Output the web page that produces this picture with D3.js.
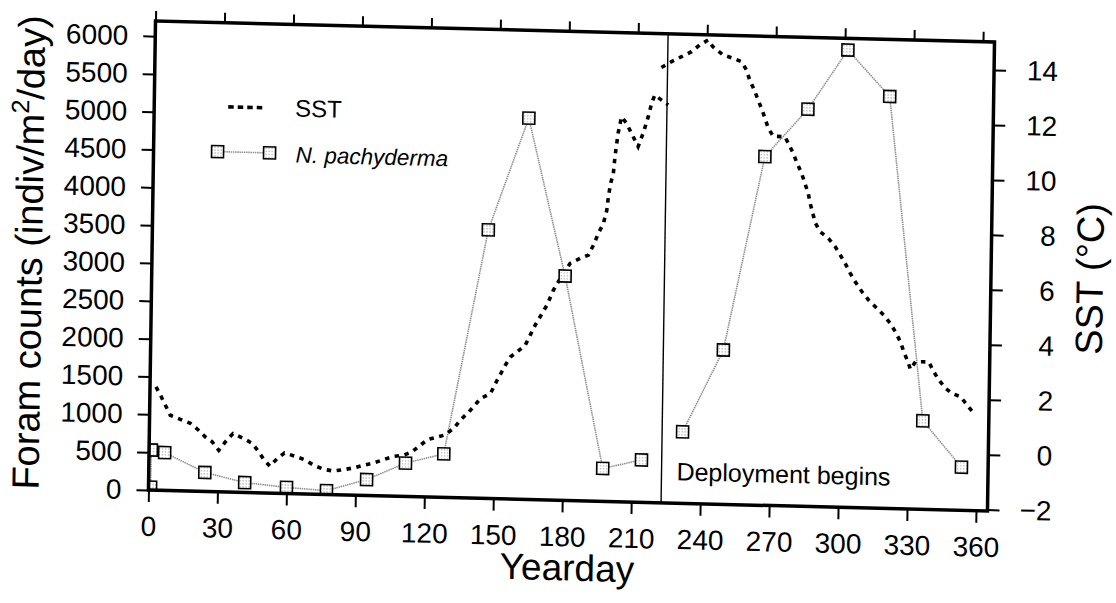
<!DOCTYPE html>
<html>
<head>
<meta charset="utf-8">
<script src="https://cdn.jsdelivr.net/npm/d3@7"></script>
<style>
  body { margin: 0; background: #fff; }
  text { font-family: "Liberation Sans", Arial, Helvetica, sans-serif; fill: #000; }
</style>
</head>
<body>
<svg id="chart" width="1116" height="603"></svg>
<script>
// N. pachyderma flux (indiv/m2/day), before and after the deployment gap
const pachyDaysA   = [0.9, 1.0, 6.8, 24.4, 41.8, 60.0, 77.4, 94.8, 111.6, 128.2, 146.1, 163.0, 179.8, 197.4, 214.2];
const pachyCountsA = [40, 530, 500, 250, 130, 80, 50, 210, 440, 575, 3550, 5040, 2965, 435, 560];
const pachyDaysB   = [231.9, 249.1, 265.9, 284.3, 301.3, 319.8, 336.3, 353.4];
const pachyCountsB = [945, 2040, 4610, 5250, 6045, 5445, 1170, 570];

// Sea surface temperature (deg C), two records split at deployment
const sstDaysA = [2.6, 4.8, 6.8, 9.0, 13.4, 17.8, 21.4, 24.4, 27.4, 30.3, 33.1, 36.4, 41.1, 44.8, 47.7, 49.9,
  52.6, 55.8, 58.9, 63.7, 68.1, 71.7, 76.1, 80.2, 84.8, 89.1, 93.5, 97.8, 102.1, 106.5, 110.8, 114.4, 118.0,
  121.1, 128.1, 132.4, 135.2, 138.8, 143.8, 148.1, 150.9, 154.4, 156.5, 159.4, 162.9, 165.0, 167.1, 169.2,
  172.1, 174.8, 177.7, 181.9, 186.2, 189.8, 191.9, 194.0, 196.1, 197.5, 198.1, 199.0, 200.1, 200.7, 201.9,
  203.3, 205.5, 208.5, 210.7, 212.8, 214.9, 216.3, 217.6, 220.6, 223.5];
const sstTempA = [1.71, 1.38, 1.05, 0.69, 0.55, 0.41, 0.17, -0.07, -0.24, -0.54, -0.23, 0.08, -0.09, -0.26, -0.56, -0.83,
  -1.07, -0.79, -0.58, -0.69, -0.82, -1.0, -1.14, -1.19, -1.13, -1.06, -0.95, -0.86, -0.73, -0.6, -0.55, -0.42, -0.17,
  0.04, 0.21, 0.47, 0.78, 1.08, 1.58, 1.77, 2.26, 2.82, 3.12, 3.31, 3.56, 3.93, 4.30, 4.61,
  5.04, 5.59, 6.02, 6.58, 6.77, 6.90, 7.26, 7.70, 8.06, 8.55, 9.04, 9.53, 9.89, 10.50, 11.35,
  11.96, 11.73, 11.24, 10.89, 11.38, 11.98, 12.48, 12.78, 12.60, 12.43];
const sstDaysB = [220.3, 224.7, 229.0, 233.3, 236.8, 240.4, 242.6, 247.1, 251.4, 255.1, 257.3, 258.8, 260.7, 262.6,
  264.2, 265.7, 267.2, 269.4, 274.5, 276.4, 278.2, 280.0, 282.0, 283.5, 285.0, 285.9, 287.1, 288.2, 290.4, 294.1,
  297.1, 299.3, 301.5, 303.8, 306.0, 309.0, 312.0, 314.9, 318.6, 321.6, 323.8, 326.1, 327.6, 329.1, 330.6, 332.7,
  335.6, 338.5, 340.8, 343.0, 346.0, 348.9, 352.6, 355.5, 358.5];
const sstTempB = [13.79, 14.01, 14.20, 14.39, 14.64, 14.83, 14.59, 14.30, 14.19, 14.07, 13.78, 13.41, 13.08, 12.69,
  12.37, 12.03, 11.67, 11.39, 11.38, 11.08, 10.78, 10.42, 10.06, 9.70, 9.34, 8.98, 8.62, 8.28, 7.96, 7.72,
  7.42, 7.13, 6.83, 6.47, 6.17, 5.81, 5.51, 5.28, 4.98, 4.68, 4.38, 4.02, 3.66, 3.37, 3.03, 3.31,
  3.32, 3.32, 2.96, 2.67, 2.37, 2.19, 2.08, 1.78, 1.48];

const deploymentDay = 223;
const dayTicks = d3.range(0, 361, 30);
const countTicks = d3.range(0, 6001, 500);
const sstTicks = d3.range(-2, 15, 2);

const W = 839, H = 469;
const svg = d3.select("#chart");

const defs = svg.append("defs");
const pat = defs.append("pattern").attr("id", "stipple")
  .attr("patternUnits", "userSpaceOnUse").attr("width", 3).attr("height", 3);
pat.append("rect").attr("width", 3).attr("height", 3).attr("fill", "#fff");
pat.append("rect").attr("x", 1).attr("y", 1).attr("width", 1).attr("height", 1).attr("fill", "#888");
defs.append("clipPath").attr("id", "plotClip")
  .append("rect").attr("width", W).attr("height", H);

// plot group (the printed frame sits slightly askew on the page)
const g = svg.append("g").attr("transform", "matrix(1,0.025,-0.015,1,155.5,21)");

const x = d3.scaleLinear().domain([0, 365]).range([0, W]);
const y = d3.scaleLinear().domain([0, 6200]).range([H, 0]);
const yT = d3.scaleLinear().domain([-2.05, 15.02]).range([H, 0]);

function styleAxis(sel) {
  sel.select(".domain").remove();
  sel.selectAll(".tick line").attr("stroke", "#000").attr("stroke-width", 2);
  sel.selectAll(".tick text").attr("font-size", 28).attr("fill", "#000")
    .attr("font-family", "Liberation Sans, Arial, sans-serif");
}

g.append("g").attr("transform", `translate(0,${H})`)
  .call(d3.axisBottom(x).tickValues(dayTicks).tickSize(12).tickPadding(14).tickFormat(d3.format("d")))
  .call(styleAxis);
g.append("g")
  .call(d3.axisTop(x).tickValues(dayTicks).tickSize(10).tickFormat(""))
  .call(styleAxis);
g.append("g")
  .call(d3.axisLeft(y).tickValues(countTicks).tickSize(12).tickPadding(15).tickFormat(d3.format("d")))
  .call(styleAxis);
g.append("g").attr("transform", `translate(${W},0)`)
  .call(d3.axisRight(yT).tickValues(sstTicks).tickSize(12).tickFormat(d3.format("d")))
  .call(styleAxis)
  .call(s => s.selectAll(".tick text").attr("text-anchor", "end").attr("x", 64));

// data layer
const plot = g.append("g").attr("clip-path", "url(#plotClip)");

const sstLine = d3.line().x(d => x(d[0])).y(d => yT(d[1]));
const countLine = d3.line().x(d => x(d[0])).y(d => y(d[1]));

const pachyA = pachyDaysA.map((d, i) => [d, pachyCountsA[i]]);
const pachyB = pachyDaysB.map((d, i) => [d, pachyCountsB[i]]);
const sstA = sstDaysA.map((d, i) => [d, sstTempA[i]]);
const sstB = sstDaysB.map((d, i) => [d, sstTempB[i]]);

[pachyA, pachyB].forEach(s => {
  plot.append("path").attr("d", countLine(s)).attr("fill", "none")
    .attr("stroke", "#8a8a8a").attr("stroke-width", 1.6).attr("stroke-dasharray", "1.4,0.8");
});

[sstA, sstB].forEach(s => {
  plot.append("path").attr("d", sstLine(s)).attr("fill", "none")
    .attr("stroke", "#000").attr("stroke-width", 3.6).attr("stroke-dasharray", "4.5,5.5");
});

const sq = 12;
plot.selectAll("rect.pachy").data(pachyA.concat(pachyB)).enter().append("rect")
  .attr("class", "pachy")
  .attr("x", d => x(d[0]) - sq / 2).attr("y", d => y(d[1]) - sq / 2)
  .attr("width", sq).attr("height", sq)
  .attr("fill", "url(#stipple)").attr("stroke", "#000").attr("stroke-width", 1.6);

// deployment marker
g.append("line").attr("x1", x(deploymentDay)).attr("x2", x(deploymentDay))
  .attr("y1", 0).attr("y2", H).attr("stroke", "#000").attr("stroke-width", 1.4);
g.append("text").attr("x", x(deploymentDay) + 15).attr("y", 446)
  .attr("font-size", 25).text("Deployment begins");

// frame
g.append("rect").attr("width", W).attr("height", H)
  .attr("fill", "none").attr("stroke", "#000").attr("stroke-width", 3.5);

// legend
const leg = g.append("g");
leg.append("line").attr("x1", 74).attr("x2", 111).attr("y1", 84).attr("y2", 84)
  .attr("stroke", "#000").attr("stroke-width", 3.6).attr("stroke-dasharray", "5.5,4");
leg.append("text").attr("x", 141).attr("y", 92).attr("font-size", 24).text("SST");
leg.append("line").attr("x1", 64).attr("x2", 116).attr("y1", 129).attr("y2", 129)
  .attr("stroke", "#8a8a8a").attr("stroke-width", 1.6).attr("stroke-dasharray", "1.4,0.8");
[64, 116].forEach(cx => {
  leg.append("rect").attr("x", cx - sq / 2).attr("y", 129 - sq / 2).attr("width", sq).attr("height", sq)
    .attr("fill", "url(#stipple)").attr("stroke", "#000").attr("stroke-width", 1.6);
});
leg.append("text").attr("x", 142).attr("y", 138).attr("font-size", 22.5)
  .attr("font-style", "italic").text("N. pachyderma");

// axis titles
g.append("text").attr("x", W / 2).attr("y", 549).attr("text-anchor", "middle")
  .attr("font-size", 37).text("Yearday");

const yl = g.append("text").attr("transform", `translate(-110,${H / 2}) rotate(-90)`)
  .attr("text-anchor", "middle").attr("font-size", 38);
yl.append("tspan").text("Foram counts (indiv/m");
yl.append("tspan").attr("font-size", 25).attr("dy", "-0.6em").text("2");
yl.append("tspan").attr("dy", "0.39em").text("/day)");

g.append("text").attr("transform", `translate(951,${H / 2}) rotate(-90)`)
  .attr("text-anchor", "middle").attr("font-size", 38).text("SST (°C)");
</script>
</body>
</html>
